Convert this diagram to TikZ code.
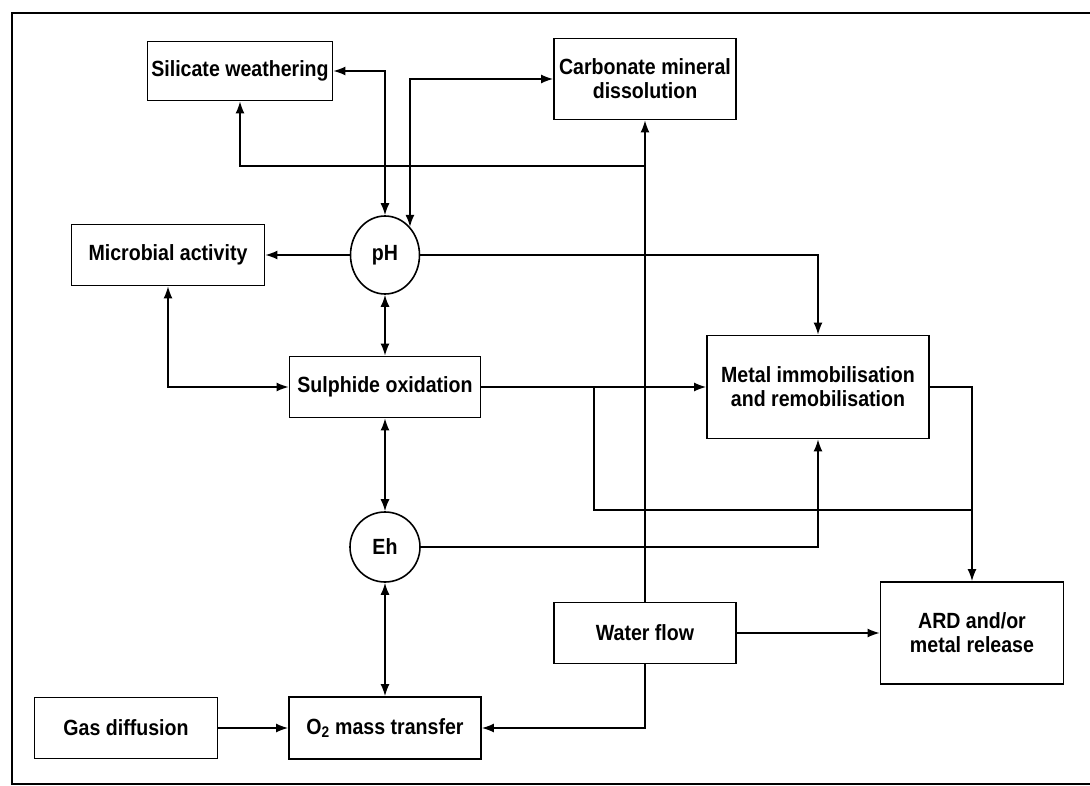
\documentclass[tikz,border=0pt]{standalone}
\usepackage{fontspec}
\setmainfont{Liberation Sans}
\newfontfamily\boxfont[FakeStretch=0.89]{Liberation Sans}
\tikzstyle{proc}=[rectangle,draw,line width=1.8pt,minimum height=61pt,align=center,
font=\boxfont\bfseries\fontsize{22}{24}\selectfont]
\tikzstyle{var}=[ellipse,draw,line width=1.6pt,inner sep=0pt,
font=\boxfont\bfseries\fontsize{22}{24}\selectfont]
\tikzstyle{link}=[line width=1.5pt]
\usetikzlibrary{arrows.meta,positioning,shapes}

\begin{document}
\begin{tikzpicture}[x=1pt,y=-1pt,>={Latex[length=12pt,width=9pt]}]
            \useasboundingbox (0,0) rectangle (1090,786);
            % frame
            \draw[line width=1.5pt] (1090,13) -- (12,13) -- (12,784) -- (1090,784);

            % TOP PART

            \node[proc,minimum width=185pt,minimum height=59pt] (sil) at (240,71) {Silicate weathering};
            \node[proc,minimum width=182pt,minimum height=81pt] (carb) at (645,79) {Carbonate mineral\\dissolution};
            \node[var,minimum width=69pt,minimum height=78pt] (ph) at (385,255) {pH};
            \node[proc,minimum width=193pt] (mic) at (168,255) {Microbial activity};

            % MIDDLE PART

            \node[proc,minimum width=191pt] (sul) at (385,387) {Sulphide oxidation};
            \node[proc,minimum width=222pt,minimum height=103pt] (met) at (818,387) {Metal immobilisation\\and remobilisation};
            \node[var,minimum width=70pt,minimum height=70pt] (eh) at (385,547) {Eh};

            % BOTTOM PART

            \node[proc,minimum width=182pt] (water) at (645,633) {Water flow};
            \node[proc,minimum width=183pt,minimum height=102pt] (ard) at (972,633) {ARD and/or\\metal release};
            \node[proc,minimum width=183pt] (gas) at (126,728) {Gas diffusion};
            \node[proc,minimum width=192pt,minimum height=62pt] (otwo) at (385,728) {O\textsubscript{2} mass transfer};

            \coordinate (wsplit) at (645,166);
            \coordinate (sbranch) at (594,387);
            \coordinate (jn) at (972,510);

            % Connections

            \draw[link,<->] (sil.east) -| (ph.north);
            \draw[link,<->] (carb.west) -| (ph.north east);
            \draw[link,->] (water.north) -- (carb.south);
            \draw[link,->] (wsplit) -| (sil.south);
            \path[link,->] (ph) edge (mic);
            \draw[link,->] (ph.east) -| (met.north);
            \path[link,<->] (ph) edge (sul);
            \draw[link,<->] (mic.south) |- (sul.west);
            \path[link,->] (sul) edge (met);
            \draw[link] (sbranch) |- (jn);
            \draw[link,->] (met.east) -| (ard.north);
            \path[link,<->] (sul) edge (eh);
            \draw[link,->] (eh.east) -| (met.south);
            \path[link,<->] (eh) edge (otwo);
            \path[link,->] (gas) edge (otwo);
            \draw[link,->] (water.south) |- (otwo.east);
            \path[link,->] (water) edge (ard);

        \end{tikzpicture}
\end{document}
